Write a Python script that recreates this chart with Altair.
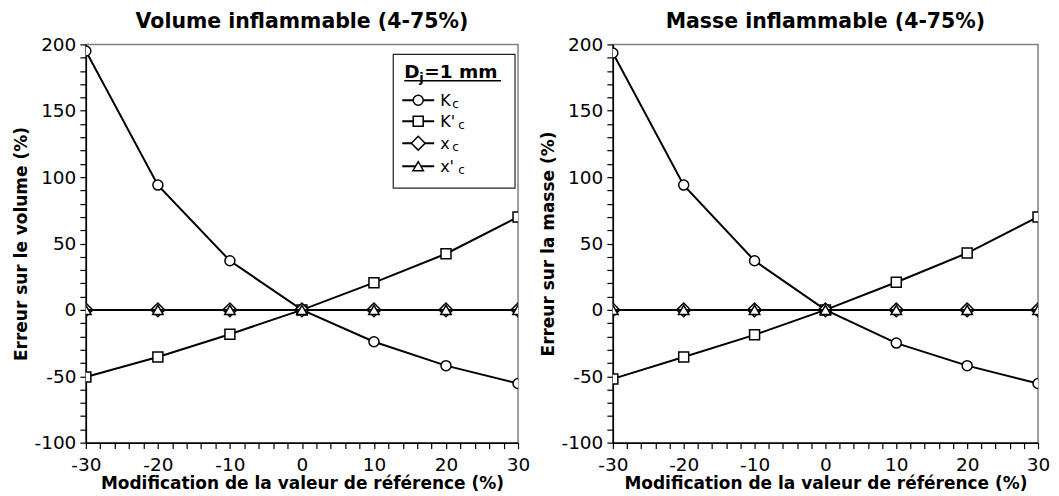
import altair as alt
import pandas as pd

# ---------------- data ----------------
x_vals = [-30, -20, -10, 0, 10, 20, 30]
series_names = ["Kc", "K'c", "xc", "x'c"]

vol_Kc = [195, 94, 37, 0, -24, -42, -55.5]
vol_Kpc = [-50.5, -35.5, -18.3, 0, 20.5, 42.3, 70]
vol_xc = [0, 0, 0, 0, 0, 0, 0]
vol_xpc = [0, 0, 0, 0, 0, 0, 0]

mass_Kc = [193.5, 94, 37, 0, -25, -42, -55.5]
mass_Kpc = [-52, -35.5, -18.8, 0, 20.8, 42.8, 70]
mass_xc = [0, 0, 0, 0, 0, 0, 0]
mass_xpc = [0, 0, 0, 0, 0, 0, 0]

x_ticks = list(range(-30, 31, 2))
y_ticks = list(range(-100, 201, 10))

titles = ["Volume inflammable (4-75%)", "Masse inflammable (4-75%)"]
y_titles = ["Erreur sur le volume (%)", "Erreur sur la masse (%)"]
x_title = "Modification de la valeur de référence (%)"
legend_title = ["D", "j", "=1 mm"]
legend_labels = [("K", "c"), ("K'", "c"), ("x", "c"), ("x'", "c")]

shapes = {"Kc": "circle", "K'c": "square", "xc": "diamond", "x'c": "triangle-up"}
sizes = {"Kc": 100, "K'c": 100, "xc": 190, "x'c": 110}

FONT = "DejaVu Sans"
H = 399


def make_panel(title, ytitle, series_vals, width, with_legend):
    rows = []
    for name, vals in zip(series_names, series_vals):
        for xv, yv in zip(x_vals, vals):
            rows.append({"x": xv, "y": yv, "series": name})
    df = pd.DataFrame(rows)

    xenc = alt.X(
        "x:Q",
        scale=alt.Scale(domain=[-30, 30], nice=False, zero=False),
        axis=alt.Axis(
            values=x_ticks,
            labelExpr="datum.value % 10 == 0 ? '' + datum.value : ''",
            labelFlush=False,
            labelOverlap=False,
            labelPadding=7,
            titlePadding=1.5,
            titleFontSize=17,
            title=x_title,
        ),
    )
    yenc = alt.Y(
        "y:Q",
        scale=alt.Scale(domain=[-100, 200], nice=False, zero=False),
        axis=alt.Axis(
            values=y_ticks,
            labelExpr="datum.value % 50 == 0 ? '' + datum.value : ''",
            labelFlush=False,
            labelOverlap=False,
            labelPadding=4,
            titlePadding=3,
            title=ytitle,
        ),
    )

    layers = []
    for name in series_names:
        sub = alt.Chart(df[df["series"] == name])
        layers.append(
            sub.mark_line(color="black", strokeWidth=2, clip=True).encode(x=xenc, y=yenc)
        )
        layers.append(
            sub.mark_point(
                shape=shapes[name], size=sizes[name], filled=True, fill="white",
                stroke="black", strokeWidth=1.5, opacity=1, clip=True,
            ).encode(x=xenc, y=yenc)
        )

    one = alt.Chart(pd.DataFrame({"v": [0]}))
    # panel title drawn as text above the plot area
    layers.append(
        one.mark_text(text=title, font=FONT, fontSize=20.5, fontWeight="bold",
                      align="center", baseline="alphabetic", color="black").encode(
            x=alt.value(width / 2), y=alt.value(-16.5))
    )

    if with_legend:
        layers.append(
            one.mark_rect(fill="white", stroke="#222222", strokeWidth=1.2).encode(
                x=alt.value(308), x2=alt.value(430), y=alt.value(10), y2=alt.value(144)
            )
        )
        layers.append(
            one.mark_text(text=legend_title[0], font=FONT, fontSize=18.5, fontWeight="bold",
                          align="left", baseline="alphabetic", color="black").encode(
                x=alt.value(319), y=alt.value(34))
        )
        layers.append(
            one.mark_text(text=legend_title[1], font=FONT, fontSize=13, fontWeight="bold",
                          align="left", baseline="alphabetic", color="black").encode(
                x=alt.value(334), y=alt.value(38))
        )
        layers.append(
            one.mark_text(text=legend_title[2], font=FONT, fontSize=18.5, fontWeight="bold",
                          align="left", baseline="alphabetic", color="black").encode(
                x=alt.value(339), y=alt.value(34))
        )
        layers.append(
            one.mark_rule(color="black", strokeWidth=1.5).encode(
                x=alt.value(319), x2=alt.value(416), y=alt.value(36.5))
        )
        rows_y = [56, 77, 99, 122]
        for name, ry, (main, subtxt) in zip(series_names, rows_y, legend_labels):
            layers.append(
                one.mark_rule(color="black", strokeWidth=2).encode(
                    x=alt.value(317), x2=alt.value(349), y=alt.value(ry))
            )
            layers.append(
                one.mark_point(shape=shapes[name], size=sizes[name], filled=True, fill="white",
                               stroke="black", strokeWidth=1.5, opacity=1).encode(
                    x=alt.value(333), y=alt.value(ry))
            )
            layers.append(
                one.mark_text(text=main, font=FONT, fontSize=16, align="left",
                              baseline="alphabetic", color="black").encode(
                    x=alt.value(355), y=alt.value(ry + 5.5))
            )
            sub_x = 367 if "'" not in main else 373
            layers.append(
                one.mark_text(text=subtxt, font=FONT, fontSize=12, align="left",
                              baseline="alphabetic", color="black").encode(
                    x=alt.value(sub_x), y=alt.value(ry + 8))
            )

    return alt.layer(*layers).properties(width=width, height=H)


left = make_panel(titles[0], y_titles[0], [vol_Kc, vol_Kpc, vol_xc, vol_xpc], 433, True)
right = make_panel(titles[1], y_titles[1], [mass_Kc, mass_Kpc, mass_xc, mass_xpc], 426, False)

chart = (
    alt.hconcat(left, right, spacing=95, bounds="flush")
    .properties(padding={"left": 4, "top": 2, "right": 0, "bottom": 4})
    .configure_view(stroke="#808080", strokeWidth=1.5)
    .configure_axis(
        domainColor="black", domainWidth=1.5, tickColor="black", tickWidth=1.2,
        tickSize=6, labelFont=FONT, labelFontSize=18.5, labelColor="black",
        titleFont=FONT, titleFontSize=17, titleFontWeight="bold", titleColor="black",
        grid=False, zindex=1,
    )
)

chart.save("out.html", embed_options={"renderer": "svg", "actions": False})
